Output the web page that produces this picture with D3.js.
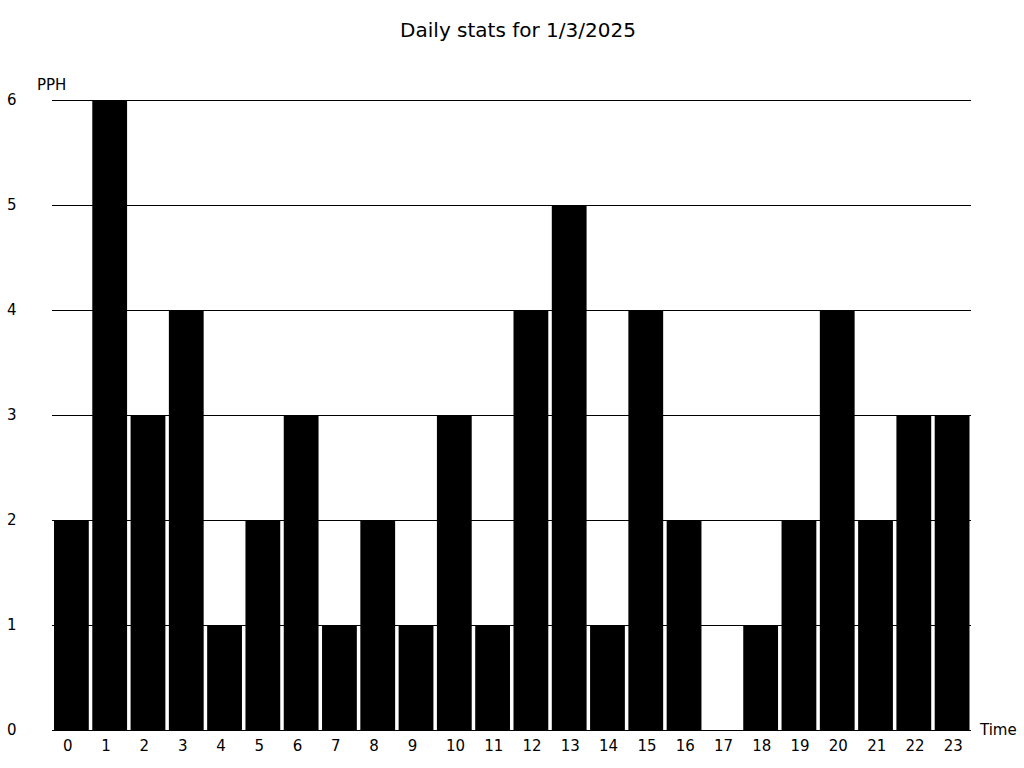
<!DOCTYPE html>
<html><head><meta charset="utf-8">
<script src="https://cdn.jsdelivr.net/npm/d3@7"></script>
<style>body{margin:0;background:#fff;} text{font-family:"DejaVu Sans",sans-serif;}</style>
</head><body>
<svg id="c" width="1024" height="768"></svg>
<script>
const hours = ["0","1","2","3","4","5","6","7","8","9","10","11","12","13","14","15","16","17","18","19","20","21","22","23"];
const pph = [2,6,3,4,1,2,3,1,2,1,3,1,4,5,1,4,2,0,1,2,4,2,3,3];
const yTicks = [0,1,2,3,4,5,6];
const title = "Daily stats for 1/3/2025";

(function () {
const svg = d3.select("#c");
const mL = 52, mR = 971, mT = 100, mB = 730;
const x = d3.scaleBand().domain(hours).range([mL, mR]);
const y = d3.scaleLinear().domain([0, 6]).range([mB, mT]);

svg.append("g").selectAll("line").data(yTicks).join("line")
  .attr("x1", mL).attr("x2", mR)
  .attr("y1", d => y(d) + 0.5).attr("y2", d => y(d) + 0.5)
  .attr("stroke", "#000").attr("stroke-width", 1);

svg.append("g").selectAll("rect").data(pph).join("rect")
  .attr("x", (d, i) => x(hours[i]) + 2)
  .attr("width", x.bandwidth() - 3.5)
  .attr("y", d => y(d))
  .attr("height", d => y(0) - y(d))
  .attr("fill", "#000");

svg.append("g").selectAll("text").data(yTicks).join("text")
  .attr("x", 7).attr("y", d => y(d) + 5)
  .attr("font-size", 15).text(d => d);

svg.append("g").selectAll("text").data(hours).join("text")
  .attr("x", d => x(d) + 11).attr("y", 751)
  .attr("font-size", 15).text(d => d);

svg.append("text").attr("x", 37).attr("y", 90).attr("font-size", 15).text("PPH");
svg.append("text").attr("x", 980).attr("y", 735).attr("font-size", 15).text("Time");
svg.append("text").attr("x", 518).attr("y", 37).attr("text-anchor", "middle")
  .attr("font-size", 20).text(title);
})();
</script>
</body></html>
